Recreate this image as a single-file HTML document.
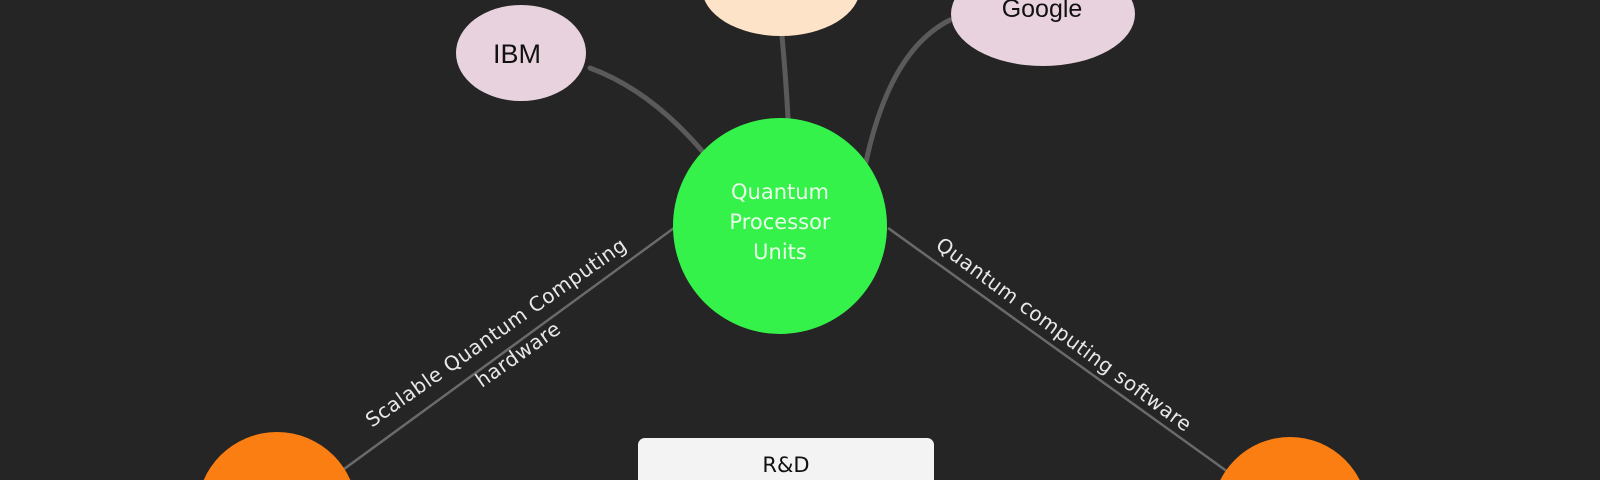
<!DOCTYPE html>
<html><head><style>
html,body{margin:0;width:1600px;height:480px;overflow:hidden;background:#252525}
svg{display:block}
</style></head><body>
<svg width="1600" height="480" viewBox="0 0 1600 480" xmlns="http://www.w3.org/2000/svg">
<rect width="1600" height="480" fill="#252525"/>
<g fill="none" stroke="#5a5a5a" stroke-width="5" stroke-linecap="round">
<path d="M590 68 Q650 90 703 152"/>
<path d="M782 36 Q786 80 788 118"/>
<path d="M950 20 Q890 50 866 162"/>
</g>
<g stroke="#6a6a6a" stroke-width="2.5">
<line x1="674" y1="228" x2="340" y2="472"/>
<line x1="888" y1="228" x2="1228" y2="472"/>
</g>
<ellipse cx="521" cy="53" rx="65" ry="48" fill="#e8d2de"/>
<text x="517" y="63" font-family="Liberation Sans, sans-serif" font-size="27" text-anchor="middle" fill="#111">IBM</text>
<ellipse cx="781" cy="-12" rx="79" ry="48" fill="#fde3c8"/>
<ellipse cx="1043" cy="14" rx="92" ry="52" fill="#e8d2de"/>
<text x="1042" y="17" font-family="Liberation Sans, sans-serif" font-size="25" text-anchor="middle" fill="#111">Google</text>
<ellipse cx="780" cy="226" rx="107" ry="108" fill="#35f24a"/>
<g font-family="DejaVu Sans, sans-serif" font-size="21" fill="#eaffea" text-anchor="middle">
<text x="780" y="199">Quantum</text>
<text x="780" y="229">Processor</text>
<text x="780" y="259">Units</text>
</g>
<g font-family="DejaVu Sans, sans-serif" font-size="20" fill="#e8e8e8" text-anchor="middle" letter-spacing="0.5">
<text transform="translate(500,338) rotate(-35)">Scalable Quantum Computing</text>
<text transform="translate(522,360) rotate(-35)">hardware</text>
<text transform="translate(1060,340) rotate(36.4)">Quantum computing software</text>
</g>
<circle cx="277" cy="512" r="80" fill="#fb7e12"/>
<circle cx="1290" cy="515" r="78" fill="#fb7e12"/>
<rect x="638" y="438" width="296" height="60" rx="7" fill="#f3f3f3"/>
<text x="786" y="472" font-family="DejaVu Sans, sans-serif" font-size="21" text-anchor="middle" fill="#111">R&amp;D</text>
</svg>
</body></html>
